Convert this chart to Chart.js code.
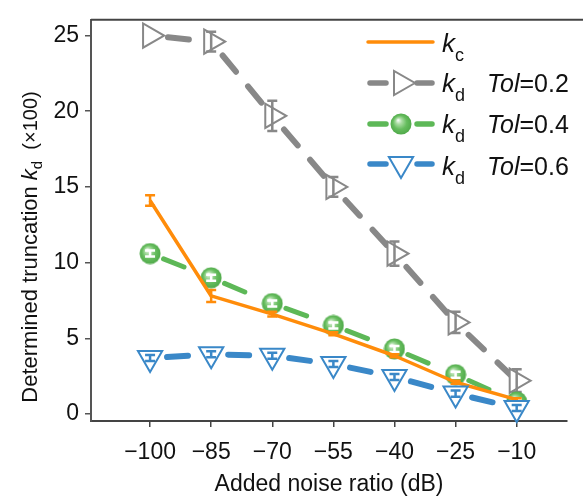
<!DOCTYPE html>
<html>
<head>
<meta charset="utf-8">
<script src="https://cdn.jsdelivr.net/npm/chart.js@4.4.1/dist/chart.umd.min.js"></script>
<style>
  html, body { margin: 0; padding: 0; background: #fff; }
  #wrap { width: 583px; height: 500px; }
</style>
</head>
<body>
<div id="wrap"><canvas id="c" width="583" height="500"></canvas></div>
<script>
// values (y in units of 100)
const noise = [-100, -85, -70, -55, -40, -25, -10];
const kc = [14.1, 7.8, 6.6, 5.3, 3.85, 2.1, 0.95];
const kcErr = [0.35, 0.4, 0.15, 0.1, 0.1, 0.1, 0.1];
const kdTol02 = [25.0, 24.6, 19.7, 15.0, 10.6, 6.05, 2.2];
const kdTol02Err = [0, 0.65, 1.0, 0.65, 0.8, 0.7, 0.75];
const kdTol04 = [10.6, 9.0, 7.3, 5.85, 4.3, 2.6, 0.8];
const kdTol04Err = [0.2, 0.2, 0.2, 0.2, 0.2, 0.2, 0.2];
const kdTol06 = [3.7, 3.95, 3.85, 3.3, 2.45, 1.35, 0.4];
const kdTol06Err = [0.2, 0.2, 0.2, 0.2, 0.2, 0.2, 0.2];
const xTicks = [-100, -85, -70, -55, -40, -25, -10];
const yTicks = [0, 5, 10, 15, 20, 25];

const FONT = '"Liberation Sans", Arial, Helvetica, sans-serif';
const ORANGE = '#ff8c0a', GRAY = '#888888', GREEN = '#5db857', BLUE = '#3a88c8';

// shaded green ball marker
function makeBall(d) {
  const cv = document.createElement('canvas');
  cv.width = d; cv.height = d;
  const g = cv.getContext('2d');
  const r = d / 2;
  const grad = g.createRadialGradient(r - 3, r - 4, 0, r, r, r);
  grad.addColorStop(0, '#ffffff');
  grad.addColorStop(0.28, '#a9dca2');
  grad.addColorStop(0.62, '#66bd5e');
  grad.addColorStop(1, '#4ea848');
  g.fillStyle = grad;
  g.beginPath(); g.arc(r, r, r - 0.5, 0, Math.PI * 2); g.fill();
  return cv;
}
const ball = makeBall(22);

const pts = vals => noise.map((x, i) => ({ x, y: vals[i] }));
// restart the dash pattern on every segment (alternate the offset a hair)
const restart = off => ({ borderDashOffset: c => (c.p0DataIndex % 2 ? off + 0.001 : off) });

const errorBars = {
  id: 'errorBars',
  afterDatasetDraw(chart, args) {
    const ds = chart.data.datasets[args.index];
    if (!ds.errors) return;
    const { ctx } = chart;
    const y = chart.scales.y;
    ctx.save();
    ctx.strokeStyle = ds.errorColor;
    ctx.lineWidth = 2.5;
    args.meta.data.forEach((p, i) => {
      const v = ds.data[i].y, e = ds.errors[i];
      if (!e) return;
      const y0 = y.getPixelForValue(v - e), y1 = y.getPixelForValue(v + e);
      ctx.beginPath();
      ctx.moveTo(p.x, y0); ctx.lineTo(p.x, y1);
      ctx.moveTo(p.x - 5, y0); ctx.lineTo(p.x + 5, y0);
      ctx.moveTo(p.x - 5, y1); ctx.lineTo(p.x + 5, y1);
      ctx.stroke();
    });
    ctx.restore();
  }
};

function drawRich(ctx, parts, x, y) {
  parts.forEach(p => {
    ctx.font = p.f;
    ctx.fillText(p.t, x, y + (p.dy || 0));
    x += ctx.measureText(p.t).width;
  });
  return x;
}
function richWidth(ctx, parts) {
  return parts.reduce((w, p) => { ctx.font = p.f; return w + ctx.measureText(p.t).width; }, 0);
}

const decorations = {
  id: 'decorations',
  afterDraw(chart) {
    const { ctx, chartArea: a } = chart;
    ctx.save();
    // top frame line
    ctx.strokeStyle = '#444';
    ctx.lineWidth = 2;
    ctx.beginPath(); ctx.moveTo(a.left, a.top); ctx.lineTo(chart.width, a.top); ctx.stroke();

    ctx.fillStyle = '#111';
    ctx.textBaseline = 'alphabetic';
    // y axis title
    const yParts = [
      { t: 'Determined truncation ', f: '22px ' + FONT },
      { t: 'k', f: 'italic 22px ' + FONT },
      { t: 'd', f: '15px ' + FONT, dy: 5 },
      { t: '  (\u00d7100)', f: '20px ' + FONT }
    ];
    ctx.save();
    ctx.translate(29, 247);
    ctx.rotate(-Math.PI / 2);
    drawRich(ctx, yParts, -richWidth(ctx, yParts) / 2, 8);
    ctx.restore();

    // legend
    const rows = [
      { color: ORANGE, lineY: 42, base: 52, sub: 'c', tol: null, dash: false },
      { color: GRAY, lineY: 83, base: 92, sub: 'd', tol: '0.2', style: 'triangle', rot: 90, r: 14 },
      { color: GREEN, lineY: 124, base: 133, sub: 'd', tol: '0.4', style: ball, rot: 0, r: 11 },
      { color: BLUE, lineY: 164, base: 175, sub: 'd', tol: '0.6', style: 'triangle', rot: 180, r: 14 }
    ];
    rows.forEach(row => {
      ctx.strokeStyle = row.color;
      ctx.lineCap = 'round';
      if (!row.tol) {
        ctx.lineWidth = 3.5;
        ctx.beginPath(); ctx.moveTo(368, row.lineY); ctx.lineTo(433, row.lineY); ctx.stroke();
      } else {
        ctx.lineWidth = 5.5;
        ctx.beginPath();
        ctx.moveTo(370, row.lineY); ctx.lineTo(386, row.lineY);
        ctx.moveTo(417, row.lineY); ctx.lineTo(432, row.lineY);
        ctx.stroke();
        ctx.lineWidth = 2;
        ctx.fillStyle = '#fff';
        Chart.helpers.drawPoint(ctx, { pointStyle: row.style, rotation: row.rot, radius: row.r, borderWidth: 2 }, 401, row.lineY);
      }
      ctx.fillStyle = '#111';
      drawRich(ctx, [
        { t: 'k', f: 'italic 26px ' + FONT },
        { t: row.sub, f: '18px ' + FONT, dy: 9 }
      ], 442, row.base);
      if (row.tol) {
        drawRich(ctx, [
          { t: 'Tol', f: 'italic 25px ' + FONT },
          { t: '=' + row.tol, f: '25px ' + FONT }
        ], 487, row.base);
      }
    });
    ctx.restore();
  }
};

const minus = v => (v < 0 ? '\u2212' + Math.abs(v) : String(v));

new Chart(document.getElementById('c'), {
  type: 'line',
  data: {
    datasets: [
      {
        label: 'kd Tol=0.2', data: pts(kdTol02), errors: kdTol02Err, errorColor: GRAY,
        borderColor: GRAY, borderWidth: 6, borderDash: [21, 19], borderCapStyle: 'round',
        segment: restart(22),
        pointStyle: 'triangle', pointRotation: 90, pointRadius: 14,
        pointBorderColor: GRAY, pointBackgroundColor: '#fff', pointBorderWidth: 2, order: 3
      },
      {
        label: 'kd Tol=0.4', data: pts(kdTol04), errors: kdTol04Err, errorColor: '#ffffff',
        borderColor: GREEN, borderWidth: 5, borderDash: [22, 30], borderCapStyle: 'round',
        segment: restart(37.5),
        pointStyle: ball, pointRadius: 11, order: 2
      },
      {
        label: 'kc', data: pts(kc), errors: kcErr, errorColor: ORANGE,
        borderColor: ORANGE, borderWidth: 3.5, borderJoinStyle: 'round',
        pointRadius: 0, order: 1
      },
      {
        label: 'kd Tol=0.6', data: pts(kdTol06), errors: kdTol06Err, errorColor: BLUE,
        borderColor: BLUE, borderWidth: 6, borderDash: [21, 30], borderCapStyle: 'round',
        segment: restart(34),
        pointStyle: 'triangle', pointRotation: 180, pointRadius: 14,
        pointBorderColor: BLUE, pointBackgroundColor: '#fff', pointBorderWidth: 2, order: 0
      }
    ]
  },
  options: {
    responsive: false,
    animation: false,
    devicePixelRatio: 1,
    layout: { padding: { top: 14, right: 0, left: 0, bottom: 0 } },
    elements: { line: { tension: 0 } },
    datasets: { line: { clip: false } },
    plugins: { legend: { display: false }, tooltip: { enabled: false } },
    scales: {
      x: {
        type: 'linear', min: -114.5, max: 2.35,
        afterBuildTicks: s => { s.ticks = xTicks.map(v => ({ value: v })); },
        afterFit: s => { s.height = 79; },
        border: { display: true, color: '#444', width: 2 },
        grid: { drawOnChartArea: false, drawTicks: true, tickLength: 6, tickColor: '#444', lineWidth: 1.5 },
        ticks: { color: '#111', padding: 12, font: { family: FONT, size: 23 }, callback: minus, maxRotation: 0 },
        title: { display: true, text: 'Added noise ratio (dB)', color: '#111', font: { family: FONT, size: 23 }, padding: { top: 0, bottom: 2 } }
      },
      y: {
        type: 'linear', min: -0.46, max: 26.04,
        afterBuildTicks: s => { s.ticks = yTicks.map(v => ({ value: v })); },
        afterFit: s => { s.width = 91; },
        border: { display: true, color: '#555', width: 2 },
        grid: { drawOnChartArea: false, drawTicks: true, tickLength: 6, tickColor: '#555', lineWidth: 1.5 },
        ticks: { color: '#111', padding: 6, font: { family: FONT, size: 23 }, callback: minus }
      }
    }
  },
  plugins: [errorBars, decorations]
});
</script>
</body>
</html>
